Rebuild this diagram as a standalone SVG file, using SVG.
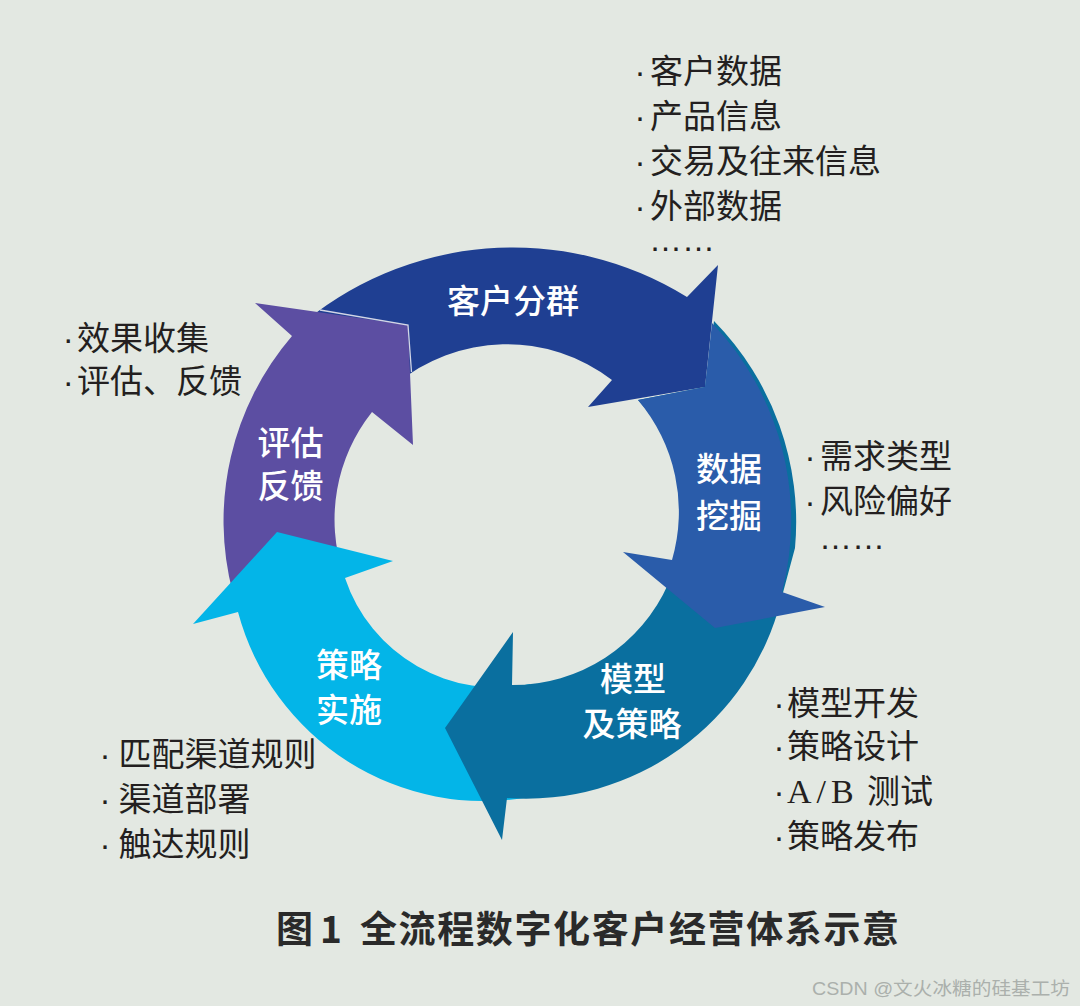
<svg xmlns="http://www.w3.org/2000/svg" width="1080" height="1006" viewBox="0 0 1080 1006">
<style>
.lbl{font-family:"Noto Sans CJK SC","Noto Sans",sans-serif;font-size:33px;font-weight:500;fill:#ffffff;text-anchor:middle}
.itm{font-family:"Noto Sans CJK SC","Noto Sans",sans-serif;font-size:33px;font-weight:400;fill:#231f20}
.dot{font-family:"Liberation Sans",sans-serif}
.ell{font-family:"Liberation Sans",sans-serif;font-size:33px;fill:#231f20}
.ttl{font-family:"Noto Sans CJK SC","Noto Sans",sans-serif;font-size:37px;font-weight:700;fill:#2a2a2a}
.wm{font-family:"Liberation Sans","Noto Sans CJK SC",sans-serif;font-size:18.5px;fill:#abb0ac}
</style>
<rect width="1080" height="1006" fill="#e3e8e2"/>

<g id="node-kehufenqun">
<path d="M295.9,329 A330,330 0 0 1 687,297 L718,265 L705,387 L588,407 L612,380 A173,173 0 0 0 395,385 Z" fill="#1f3f92"/>
<text class="lbl" x="513" y="313">客户分群</text>
</g>

<g id="node-pinggufankui">
<path d="M232.7,592.5 A284,284 0 0 1 292,336 L255,303 L408,325 L413,445 L372,412 A173,173 0 0 0 343.4,574.2 Z" fill="#5c4ea2"/>
<polyline points="320,310 408,325 411.5,372" fill="none" stroke="#d3d6e6" stroke-width="1.3"/>
<text class="lbl" x="290.5" y="455">评估</text>
<text class="lbl" x="290.5" y="498">反馈</text>
</g>

<g id="node-celueshishi">
<path d="M530,797 A255,255 0 0 1 238,612 L193,624 L277,532 L393,561 L345,578 A160,160 0 0 0 530,684 Z" fill="#03b5e8"/>
<text class="lbl" x="349" y="677">策略</text>
<text class="lbl" x="349" y="722">实施</text>
</g>

<g id="node-moxingjicelue">
<path d="M714,321 A287,287 0 0 1 795,548 L781,600 A263,263 0 0 1 507,798 L502,840 L445,728 L513,632 L512,685 A170,170 0 0 0 638,400 L705,387 Z" fill="#0a6f9f"/>
<text class="lbl" x="633" y="691">模型</text>
<text class="lbl" x="632" y="736">及策略</text>
</g>

<g id="node-shujuwajue">
<path d="M712,323 A285,285 0 0 1 782,592 L825,607 L715,628 L623,552 L672,560 A173,173 0 0 0 638,400 L705,387 Z" fill="#2a5caa"/>
<text class="lbl" x="729" y="481">数据</text>
<text class="lbl" x="729" y="528">挖掘</text>
</g>

<g id="connectors"></g>

<g id="list-kehufenqun">
<text class="itm" y="83"><tspan class="dot" x="634.5">·</tspan><tspan x="650">客户数据</tspan></text>
<text class="itm" y="128"><tspan class="dot" x="634.5">·</tspan><tspan x="650">产品信息</tspan></text>
<text class="itm" y="173"><tspan class="dot" x="634.5">·</tspan><tspan x="650">交易及往来信息</tspan></text>
<text class="itm" y="218"><tspan class="dot" x="634.5">·</tspan><tspan x="650">外部数据</tspan></text>
<text class="ell" x="649" y="251">……</text>
</g>

<g id="list-pinggufankui">
<text class="itm" y="350"><tspan class="dot" x="62.8">·</tspan><tspan x="77">效果收集</tspan></text>
<text class="itm" y="393"><tspan class="dot" x="62.8">·</tspan><tspan x="77">评估、反馈</tspan></text>
</g>

<g id="list-shujuwajue">
<text class="itm" y="468"><tspan class="dot" x="804.5">·</tspan><tspan x="820">需求类型</tspan></text>
<text class="itm" y="513"><tspan class="dot" x="804.5">·</tspan><tspan x="820">风险偏好</tspan></text>
<text class="ell" x="819" y="548.5">……</text>
</g>

<g id="list-celueshishi">
<text class="itm" y="766"><tspan class="dot" x="99.5">·</tspan><tspan x="118.5">匹配渠道规则</tspan></text>
<text class="itm" y="811"><tspan class="dot" x="99.5">·</tspan><tspan x="118.5">渠道部署</tspan></text>
<text class="itm" y="856"><tspan class="dot" x="99.5">·</tspan><tspan x="118.5">触达规则</tspan></text>
</g>

<g id="list-moxingjicelue">
<text class="itm" y="715"><tspan class="dot" x="773.5">·</tspan><tspan x="787">模型开发</tspan></text>
<text class="itm" y="758"><tspan class="dot" x="773.5">·</tspan><tspan x="787">策略设计</tspan></text>
<text class="itm" y="803"><tspan class="dot" x="773.5">·</tspan><tspan x="787" style="font-family:'Liberation Serif',serif;font-size:34px;letter-spacing:5px">A/B</tspan><tspan x="867">测试</tspan></text>
<text class="itm" y="848"><tspan class="dot" x="773.5">·</tspan><tspan x="787">策略发布</tspan></text>
</g>

<g id="caption">
<text class="ttl" y="942.5"><tspan x="276">图</tspan><tspan x="320">1</tspan></text>
<text class="ttl" x="360" y="942.5" textLength="539" lengthAdjust="spacing">全流程数字化客户经营体系示意</text>
</g>

<text class="wm" x="812" y="995" textLength="258" lengthAdjust="spacingAndGlyphs">CSDN @文火冰糖的硅基工坊</text>
</svg>
